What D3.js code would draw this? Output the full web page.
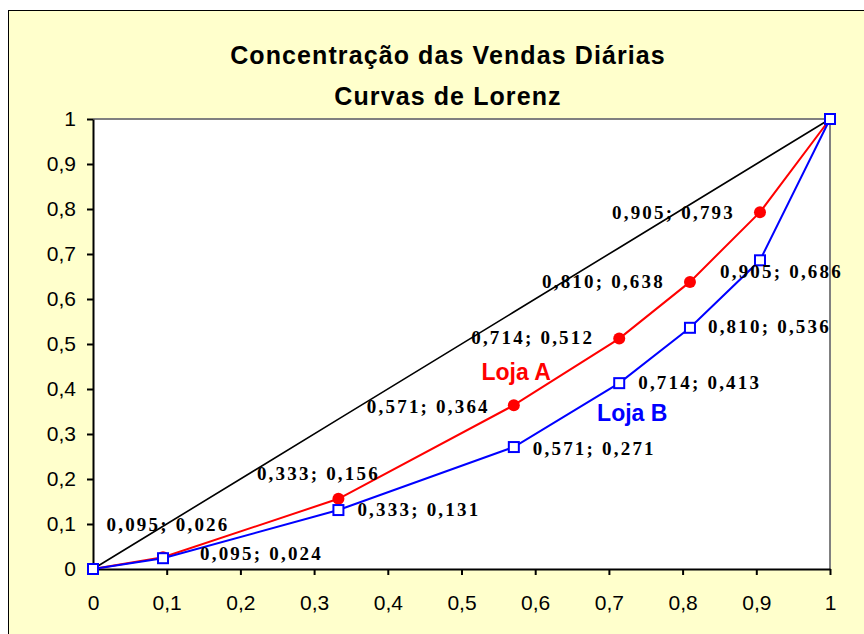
<!DOCTYPE html>
<html><head><meta charset="utf-8">
<script src="https://cdn.jsdelivr.net/npm/d3@7"></script>
<style>
html,body{margin:0;padding:0;background:#fff;}
svg{display:block;}
</style></head>
<body>
<svg id="c" width="864" height="634"></svg>
<script>
// ---- data ----
const xShare = [0, 0.095, 0.333, 0.571, 0.714, 0.810, 0.905, 1];
const lojaA  = [0, 0.026, 0.156, 0.364, 0.512, 0.638, 0.793, 1];
const lojaB  = [0, 0.024, 0.131, 0.271, 0.413, 0.536, 0.686, 1];
const equality = [0, 0.095, 0.333, 0.571, 0.714, 0.810, 0.905, 1];
const xTicks = [0, 0.1, 0.2, 0.3, 0.4, 0.5, 0.6, 0.7, 0.8, 0.9, 1];
const yTicks = [0, 0.1, 0.2, 0.3, 0.4, 0.5, 0.6, 0.7, 0.8, 0.9, 1];
const titleLines = ["Concentração das Vendas Diárias", "Curvas de Lorenz"];
const seriesNames = ["Loja A", "Loja B"];

// ---- label layout (offsets from points, pixels) ----
const labelLayoutA = [null, [5,-33,"middle"], [-20,-25,"middle"], [-24,1,"end"], [-25,-1,"end"], [-25,0,"end"], [-25,0,"end"], null];
const labelLayoutB = [null, [37,-5,"start"], [19,-1,"start"], [19,1,"start"], [19,-1,"start"], [18,-1,"start"], [-40,11,"start"], null];

const svg = d3.select("#c");
const W = 864, H = 634;
const m = {left: 93, right: 34, top: 119, bottom: 65};

// outer chart area
svg.append("rect").attr("x", 8.5).attr("y", 10.5).attr("width", W + 10).attr("height", H + 10)
  .attr("fill", "#FFFFCC").attr("stroke", "#000").attr("stroke-width", 1);

const x = d3.scaleLinear().domain([0, 1]).range([m.left, W - m.right]);
const y = d3.scaleLinear().domain([0, 1]).range([H - m.bottom, m.top]);

// plot area
svg.append("rect").attr("x", x(0)).attr("y", y(1)).attr("width", x(1) - x(0)).attr("height", y(0) - y(1))
  .attr("fill", "#fff");
svg.append("path").attr("d", `M${x(0)},${y(1)}H${x(1)}V${y(0)}`).attr("fill", "none")
  .attr("stroke", "#808080").attr("stroke-width", 2);

const fmt = d => d3.format("")(d).replace(".", ",");

// axes
const xAxis = d3.axisBottom(x).tickValues(xTicks).tickFormat(fmt).tickSizeInner(6).tickSizeOuter(0).tickPadding(20);
const yAxis = d3.axisLeft(y).tickValues(yTicks).tickFormat(fmt).tickSizeInner(6).tickSizeOuter(0).tickPadding(11);
const gx = svg.append("g").attr("transform", `translate(0,${y(0)})`).call(xAxis);
const gy = svg.append("g").attr("transform", `translate(${x(0)},0)`).call(yAxis);
[gx, gy].forEach(g => {
  g.select(".domain").attr("stroke", "#000").attr("stroke-width", 2);
  g.selectAll(".tick line").attr("stroke", "#000").attr("stroke-width", 2);
  g.selectAll(".tick text").attr("fill", "#000").attr("font-family", "'Liberation Sans', Arial, sans-serif")
    .attr("font-size", 21);
});

// lines
const line = d3.line().x(d => x(d[0])).y(d => y(d[1]));
const eqPts = xShare.map((v, i) => [v, equality[i]]);
const aPts = xShare.map((v, i) => [v, lojaA[i]]);
const bPts = xShare.map((v, i) => [v, lojaB[i]]);

svg.append("path").datum(eqPts).attr("d", line).attr("fill", "none").attr("stroke", "#000").attr("stroke-width", 1.6);
svg.append("path").datum(aPts).attr("d", line).attr("fill", "none").attr("stroke", "#FF0000").attr("stroke-width", 2);
svg.append("path").datum(bPts).attr("d", line).attr("fill", "none").attr("stroke", "#0000FF").attr("stroke-width", 2);

// markers
svg.append("g").selectAll("circle").data(aPts).join("circle")
  .attr("cx", d => x(d[0])).attr("cy", d => y(d[1])).attr("r", 6).attr("fill", "#FF0000");
svg.append("g").selectAll("rect").data(bPts).join("rect")
  .attr("x", d => x(d[0]) - 5).attr("y", d => y(d[1]) - 5).attr("width", 10).attr("height", 10)
  .attr("fill", "#fff").attr("stroke", "#0000FF").attr("stroke-width", 2);

// data labels
const f3 = d => d3.format(".3f")(d).replace(".", ",");
function labels(pts, layout) {
  svg.append("g").selectAll("text").data(pts.map((p, i) => [p, layout[i]]).filter(d => d[1]))
    .join("text")
    .attr("x", d => x(d[0][0]) + d[1][0]).attr("y", d => y(d[0][1]) + d[1][1])
    .attr("text-anchor", d => d[1][2]).attr("dominant-baseline", "central")
    .attr("font-family", "'Liberation Serif', 'Times New Roman', serif").attr("font-weight", "bold")
    .attr("font-size", 19).attr("letter-spacing", "2.2px").attr("fill", "#000")
    .text(d => `${f3(d[0][0])}; ${f3(d[0][1])}`);
}
labels(aPts, labelLayoutA);
labels(bPts, labelLayoutB);

// series names
svg.append("text").attr("x", x(0.527)).attr("y", y(0.438)).attr("dominant-baseline", "central")
  .attr("font-family", "'Liberation Sans', Arial, sans-serif").attr("font-weight", "bold").attr("font-size", 23)
  .attr("fill", "#FF0000").text(seriesNames[0]);
svg.append("text").attr("x", x(0.684)).attr("y", y(0.347)).attr("dominant-baseline", "central")
  .attr("font-family", "'Liberation Sans', Arial, sans-serif").attr("font-weight", "bold").attr("font-size", 23)
  .attr("fill", "#0000FF").text(seriesNames[1]);

// title
svg.append("g").selectAll("text").data(titleLines).join("text")
  .attr("x", 448).attr("y", (d, i) => 55 + i * 41).attr("text-anchor", "middle").attr("dominant-baseline", "central")
  .attr("font-family", "'Liberation Sans', Arial, sans-serif").attr("font-weight", "bold").attr("font-size", 25)
  .attr("letter-spacing", "1.1px")
  .attr("fill", "#000").text(d => d);
</script>
</body></html>
